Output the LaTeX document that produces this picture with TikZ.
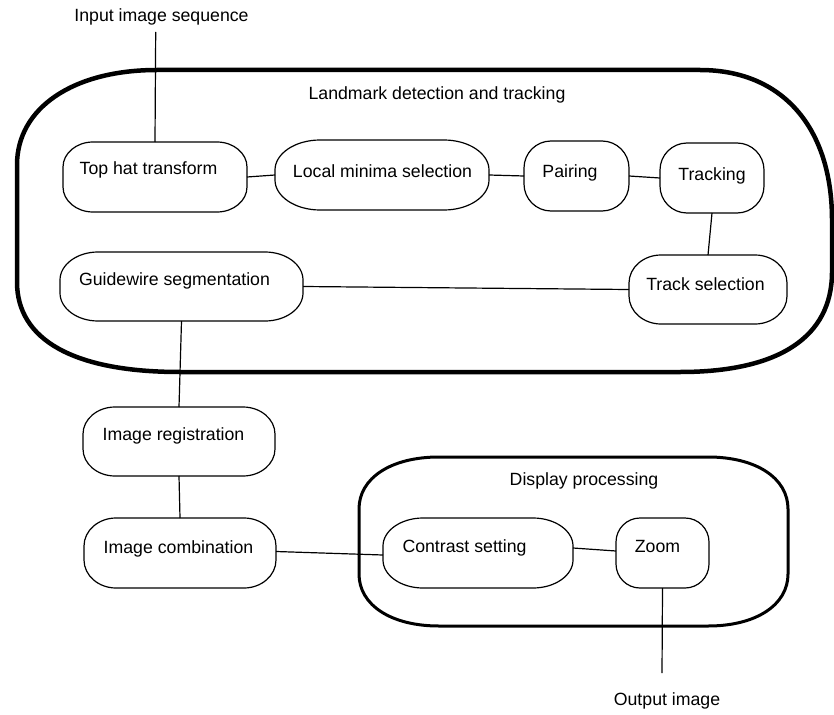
\documentclass[tikz,border=0pt]{standalone}
\usepackage{fontspec}
\setmainfont{Liberation Sans}
\tikzset{
  bx/.style={rectangle, draw=none, inner sep=0pt, outer sep=0pt},
  txt/.style={anchor=base, inner sep=0pt, font=\fontsize{17.7}{20}\selectfont},
  frame/.style={line width=1.2pt, draw=black},
  conn/.style={line width=1.2pt, draw=black},
  outerbox/.style={line width=4.5pt, draw=black},
  dispbox/.style={line width=3pt, draw=black}
}
% elliptic-cornered frame around a named node: name, rx, ry
\newcommand\eframe[3]{%
  \draw[frame] ([xshift=#2]#1.north west) -- ([xshift=-#2]#1.north east)
    .. controls ([xshift=-0.45*#2]#1.north east) and ([yshift=-0.45*#3]#1.north east) .. ([yshift=-#3]#1.north east)
    -- ([yshift=#3]#1.south east)
    .. controls ([yshift=0.45*#3]#1.south east) and ([xshift=-0.45*#2]#1.south east) .. ([xshift=-#2]#1.south east)
    -- ([xshift=#2]#1.south west)
    .. controls ([xshift=0.45*#2]#1.south west) and ([yshift=0.45*#3]#1.south west) .. ([yshift=#3]#1.south west)
    -- ([yshift=-#3]#1.north west)
    .. controls ([yshift=-0.45*#3]#1.north west) and ([xshift=0.45*#2]#1.north west) .. cycle;%
}
\begin{document}
\begin{tikzpicture}[x=1pt, y=-1pt]
\useasboundingbox (0,0) rectangle (834,714);

% outer container: Landmark detection and tracking
\draw[outerbox] (157,70) -- (700,70)
  .. controls (782,70) and (832,127) .. (832,220)
  -- (832,272)
  .. controls (832,337) and (779,372) .. (680,372)
  -- (180,372)
  .. controls (74,372) and (17,340) .. (17,282)
  -- (17,165)
  .. controls (17,108) and (73,70) .. (157,70) -- cycle;

% display processing container
\draw[dispbox] (439,457) -- (708,457)
  .. controls (756,457) and (788,478) .. (788,509)
  -- (788,574)
  .. controls (788,605) and (756,626) .. (708,626)
  -- (439,626)
  .. controls (391,626) and (359,605) .. (359,574)
  -- (359,509)
  .. controls (359,478) and (391,457) .. (439,457) -- cycle;

% boxes
\node[bx, minimum width=184pt, minimum height=70pt] (th) at (155,177) {};
\node[bx, minimum width=214pt, minimum height=70pt] (lm) at (382,175) {};
\node[bx, minimum width=105pt, minimum height=70pt] (pa) at (576.5,176) {};
\node[bx, minimum width=104pt, minimum height=70pt] (tr) at (712,178) {};
\node[bx, minimum width=158pt, minimum height=69pt] (ts) at (708,289.5) {};
\node[bx, minimum width=243pt, minimum height=69pt] (gw) at (181.5,286.5) {};
\node[bx, minimum width=192pt, minimum height=69pt] (ir) at (179,441.5) {};
\node[bx, minimum width=192pt, minimum height=70pt] (ic) at (180,553) {};
\node[bx, minimum width=190pt, minimum height=70pt] (cs) at (478,553) {};
\node[bx, minimum width=93pt, minimum height=70pt] (zm) at (662.5,553) {};

\eframe{th}{30pt}{25pt}
\eframe{lm}{45pt}{30pt}
\eframe{pa}{27pt}{27pt}
\eframe{tr}{27pt}{27pt}
\eframe{ts}{32pt}{28pt}
\eframe{gw}{38pt}{28pt}
\eframe{ir}{32pt}{27pt}
\eframe{ic}{32pt}{28pt}
\eframe{cs}{40pt}{28pt}
\eframe{zm}{24pt}{24pt}

% texts inside boxes
\node[txt] (tht) at ([shift={(-6.5,-2)}]th.center) {Top hat transform};
\node[txt] (lmt) at ([shift={(0.5,2)}]lm.center) {Local minima selection};
\node[txt] (pat) at ([shift={(-6.5,1)}]pa.center) {Pairing};
\node[txt] (trt) at ([shift={(0,2)}]tr.center) {Tracking};
\node[txt] (tst) at ([shift={(-2.5,0.5)}]ts.center) {Track selection};
\node[txt] (gwt) at ([shift={(-7,-1.5)}]gw.center) {Guidewire segmentation};
\node[txt] (irt) at ([shift={(-5.5,-1.5)}]ir.center) {Image registration};
\node[txt] (ict) at ([shift={(-1.5,0)}]ic.center) {Image combination};
\node[txt] (cst) at ([shift={(-13.5,-1)}]cs.center) {Contrast setting};
\node[txt] (zmt) at ([shift={(-5,-1)}]zm.center) {Zoom};

% free labels
\node[txt] (inlab) at (161.5,22) {Input image sequence};
\node[txt] (ldlab) at (437,100) {Landmark detection and tracking};
\node[txt] (dplab) at (584,485) {Display processing};
\node[txt] (outlab) at (667,705) {Output image};

\coordinate (inend) at (155.7,32);
\coordinate (outend) at (662,673);

% connectors
\draw[conn] (inend) -- (th.north);
\draw[conn] (th.east) -- (lm.west);
\draw[conn] (lm.east) -- (pa.west);
\draw[conn] (pa.east) -- (tr.west);
\draw[conn] (tr.south) -- (ts.north);
\draw[conn] (ts.west) -- (gw.east);
\draw[conn] (gw.south) -- (ir.north);
\draw[conn] (ir.south) -- (ic.north);
\draw[conn] ([yshift=1.5pt]ic.east) -- ([yshift=-2pt]cs.west);
\draw[conn] ([yshift=5pt]cs.east) -- ([yshift=2pt]zm.west);
\draw[conn] (zm.south) -- (outend);
\end{tikzpicture}
\end{document}
